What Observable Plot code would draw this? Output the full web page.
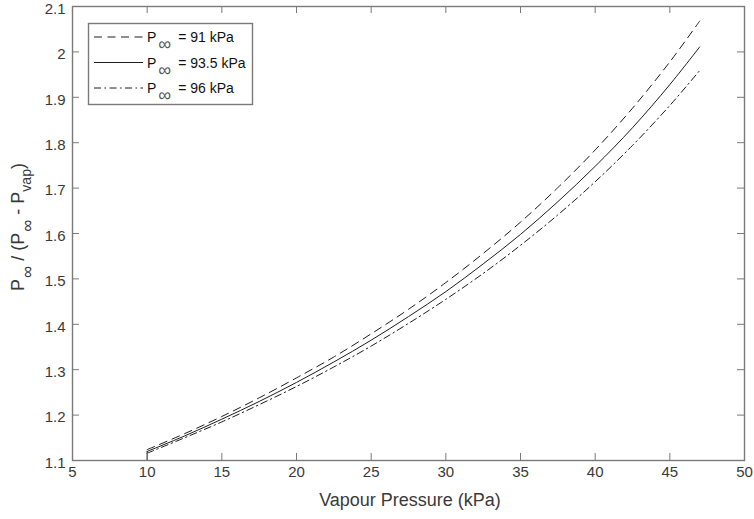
<!DOCTYPE html>
<html><head><meta charset="utf-8">
<script src="https://cdn.jsdelivr.net/npm/d3@7"></script>
<script src="https://cdn.jsdelivr.net/npm/@observablehq/plot@0.6"></script>
<style>body{margin:0;background:#fff}</style>
</head><body><div id="chart"></div>
<script>
// Vapour pressure (kPa) sample points
const vapour = [10, 12.5, 15, 17.5, 20, 22.5, 25, 27.5, 30, 32.5, 35, 37.5, 40, 42.5, 45, 47];
// P_inf / (P_inf - P_vap) for each free-stream pressure
const p91  = [1.124, 1.159, 1.197, 1.238, 1.282, 1.328, 1.379, 1.433, 1.492, 1.556, 1.625, 1.701, 1.784, 1.876, 1.978, 2.068];
const p935 = [1.120, 1.154, 1.191, 1.230, 1.272, 1.317, 1.365, 1.417, 1.472, 1.533, 1.598, 1.670, 1.748, 1.833, 1.928, 2.011];
const p96  = [1.116, 1.150, 1.185, 1.223, 1.263, 1.306, 1.352, 1.402, 1.455, 1.512, 1.574, 1.641, 1.714, 1.794, 1.882, 1.959];
// short vertical start segment of the solid curve
const stubX = [10, 10];
const stubY = [1.1, 1.120];
const legendLabels = ["= 91 kPa", "= 93.5 kPa", "= 96 kPa"];
const xTicks = [5, 10, 15, 20, 25, 30, 35, 40, 45, 50];
const yTicks = [1.1, 1.2, 1.3, 1.4, 1.5, 1.6, 1.7, 1.8, 1.9, 2, 2.1];

const W = 754, H = 519, mL = 72, mR = 10, mT = 6, mB = 59;
const innerW = W - mL - mR, innerH = H - mT - mB;
const TL = 7;
const axisCol = "#7a7a7a", textCol = "#3a3a3a", lineCol = "#1e1e1e";
const dashes = ["8,5.5", null, "7,3.5,1.5,3.5"];

const rows = vapour.map((x, i) => ({x, a: p91[i], b: p935[i], c: p96[i]}));
const stub = stubX.map((x, i) => ({x, y: stubY[i]}));

const chart = Plot.plot({
  width: W, height: H,
  marginLeft: mL, marginRight: mR, marginTop: mT, marginBottom: mB,
  x: {domain: [5, 50]},
  y: {domain: [1.1, 2.1]},
  style: {fontFamily: "'Liberation Sans', Arial, sans-serif", fontSize: "15px", background: "#fff", overflow: "visible"},
  marks: [
    Plot.line(rows, {x: "x", y: "a", curve: "catmull-rom", stroke: lineCol, strokeWidth: 1, strokeDasharray: dashes[0]}),
    Plot.line(rows, {x: "x", y: "b", curve: "catmull-rom", stroke: lineCol, strokeWidth: 1}),
    Plot.line(rows, {x: "x", y: "c", curve: "catmull-rom", stroke: lineCol, strokeWidth: 1, strokeDasharray: dashes[2]}),
    Plot.line(stub, {x: "x", y: "y", stroke: lineCol, strokeWidth: 1}),
    Plot.tickX(xTicks, {x: d => d, insetTop: innerH - TL, stroke: axisCol, strokeWidth: 1}),
    Plot.tickX(xTicks, {x: d => d, insetBottom: innerH - TL, stroke: axisCol, strokeWidth: 1}),
    Plot.tickY(yTicks, {y: d => d, insetRight: innerW - TL, stroke: axisCol, strokeWidth: 1}),
    Plot.tickY(yTicks, {y: d => d, insetLeft: innerW - TL, stroke: axisCol, strokeWidth: 1}),
    Plot.frame({stroke: axisCol, strokeWidth: 1.4}),
    Plot.axisX(xTicks, {tickSize: 0, tickPadding: 6, label: null, color: textCol, fontSize: 15}),
    Plot.axisY(yTicks, {tickSize: 0, tickPadding: 7, dy: 2.5, label: null, color: textCol, fontSize: 15, tickFormat: d => String(d)})
  ]
});
document.getElementById("chart").appendChild(chart);

const svg = d3.select(chart);
const ff = "'Liberation Sans', Arial, sans-serif";

// x axis label
svg.append("text")
  .attr("x", mL + innerW / 2 + 2).attr("y", 506)
  .attr("text-anchor", "middle").attr("font-family", ff).attr("font-size", 18)
  .attr("fill", textCol).text("Vapour Pressure (kPa)");

// y axis label with subscripts
const yl = svg.append("text")
  .attr("transform", `translate(24,${mT + innerH / 2 - 6}) rotate(-90)`)
  .attr("text-anchor", "middle").attr("font-family", ff).attr("font-size", 18)
  .attr("fill", textCol);
yl.append("tspan").text("P");
yl.append("tspan").attr("dy", 9).attr("dx", 1).attr("font-size", 17).text("\u221E");
yl.append("tspan").attr("dy", -9).text(" / (P");
yl.append("tspan").attr("dy", 9).attr("dx", 1).attr("font-size", 17).text("\u221E");
yl.append("tspan").attr("dy", -9).text(" - P");
yl.append("tspan").attr("dy", 7).attr("font-size", 14).text("vap");
yl.append("tspan").attr("dy", -7).text(")");

// legend
const lg = svg.append("g").attr("text-anchor", "start");
lg.append("rect").attr("x", 88.5).attr("y", 23.5).attr("width", 164).attr("height", 81)
  .attr("fill", "#fff").attr("stroke", axisCol).attr("stroke-width", 1.4);
legendLabels.forEach((lab, i) => {
  const cy = 37 + i * 25.5;
  const ln = lg.append("line").attr("x1", 94).attr("x2", 143).attr("y1", cy).attr("y2", cy)
    .attr("stroke", lineCol).attr("stroke-width", 1);
  if (dashes[i]) ln.attr("stroke-dasharray", dashes[i]);
  const t = lg.append("text").attr("x", 147).attr("y", cy + 5).attr("text-anchor", "start")
    .attr("font-family", ff).attr("font-size", 14).attr("fill", "#111");
  t.append("tspan").text("P");
  t.append("tspan").attr("dy", 8).attr("dx", 2).attr("font-size", 18).attr("fill", "#555").text("\u221E");
  t.append("tspan").attr("dy", -8).attr("dx", 7).text(lab);
});
</script></body></html>
